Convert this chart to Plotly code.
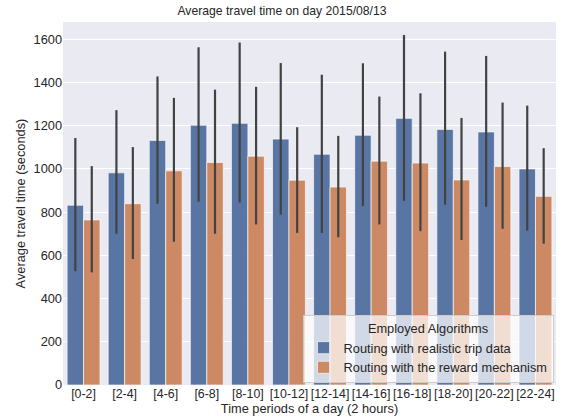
import plotly.graph_objects as go

categories = ["[0-2]", "[2-4]", "[4-6]", "[6-8]", "[8-10]", "[10-12]",
              "[12-14]", "[14-16]", "[16-18]", "[18-20]", "[20-22]", "[22-24]"]

realistic_mean = [832, 982, 1132, 1202, 1211, 1138, 1068, 1156, 1234, 1183, 1171, 1000]
realistic_hi = [1143, 1272, 1428, 1563, 1585, 1490, 1436, 1489, 1620, 1543, 1523, 1293]
realistic_lo = [527, 700, 839, 848, 845, 788, 703, 828, 852, 834, 825, 714]

reward_mean = [764, 839, 991, 1030, 1059, 948, 916, 1036, 1027, 949, 1011, 873]
reward_hi = [1013, 1101, 1329, 1367, 1380, 1193, 1153, 1335, 1350, 1236, 1307, 1096]
reward_lo = [521, 583, 663, 700, 743, 704, 684, 743, 712, 671, 723, 654]

series_names = ["Routing with realistic trip data", "Routing with the reward mechanism"]

FONT = "Liberation Sans, Arial, sans-serif"
TXT = "#262626"
FS = 12.8

def err(mean, hi, lo):
    return dict(type="data", symmetric=False,
                array=[h - m for h, m in zip(hi, mean)],
                arrayminus=[m - l for m, l in zip(mean, lo)],
                color="#424242", thickness=2.2, width=0)

fig = go.Figure()
fig.add_trace(go.Bar(x=categories, y=realistic_mean, name=series_names[0],
                     marker=dict(color="#5975A4", line=dict(color="rgba(255,255,255,0.8)", width=0.8)),
                     error_y=err(realistic_mean, realistic_hi, realistic_lo)))
fig.add_trace(go.Bar(x=categories, y=reward_mean, name=series_names[1],
                     marker=dict(color="#CC8963", line=dict(color="rgba(255,255,255,0.8)", width=0.8)),
                     error_y=err(reward_mean, reward_hi, reward_lo)))

fig.update_layout(
    width=564, height=419,
    margin=dict(l=63, r=8, t=22, b=34),
    paper_bgcolor="white", plot_bgcolor="#EAEAF2",
    barmode="group", bargap=0.2, bargroupgap=0,
    font=dict(family=FONT, size=FS, color=TXT),
    title=dict(text="Average travel time on day 2015/08/13", x=0.5, xanchor="center",
               y=0.985, yanchor="top", font=dict(size=12.2, color=TXT)),
    xaxis=dict(title=dict(text="Time periods of a day (2 hours)", standoff=1, font=dict(size=FS)),
               showgrid=False, zeroline=False, ticks="", tickangle=0, automargin=False,
               tickfont=dict(size=12.4)),
    yaxis=dict(title=dict(text="Average travel time (seconds)", standoff=5, font=dict(size=FS)),
               range=[0, 1680], dtick=200, showgrid=True, gridcolor="white", gridwidth=1,
               zeroline=False, ticks="", tickfont=dict(size=FS)),
    legend=dict(x=0.995, y=0.005, xanchor="right", yanchor="bottom",
                bgcolor="rgba(255,255,255,0.72)", bordercolor="#CCCCCC", borderwidth=1,
                font=dict(size=FS, color=TXT),
                title=dict(text="Employed Algorithms", side="top center", font=dict(size=FS)),
                tracegroupgap=0, itemwidth=30),
    showlegend=True,
)

fig.write_html("out.html", config={"displayModeBar": False},
               post_script="document.body.style.margin='0';document.body.style.overflow='hidden';")
